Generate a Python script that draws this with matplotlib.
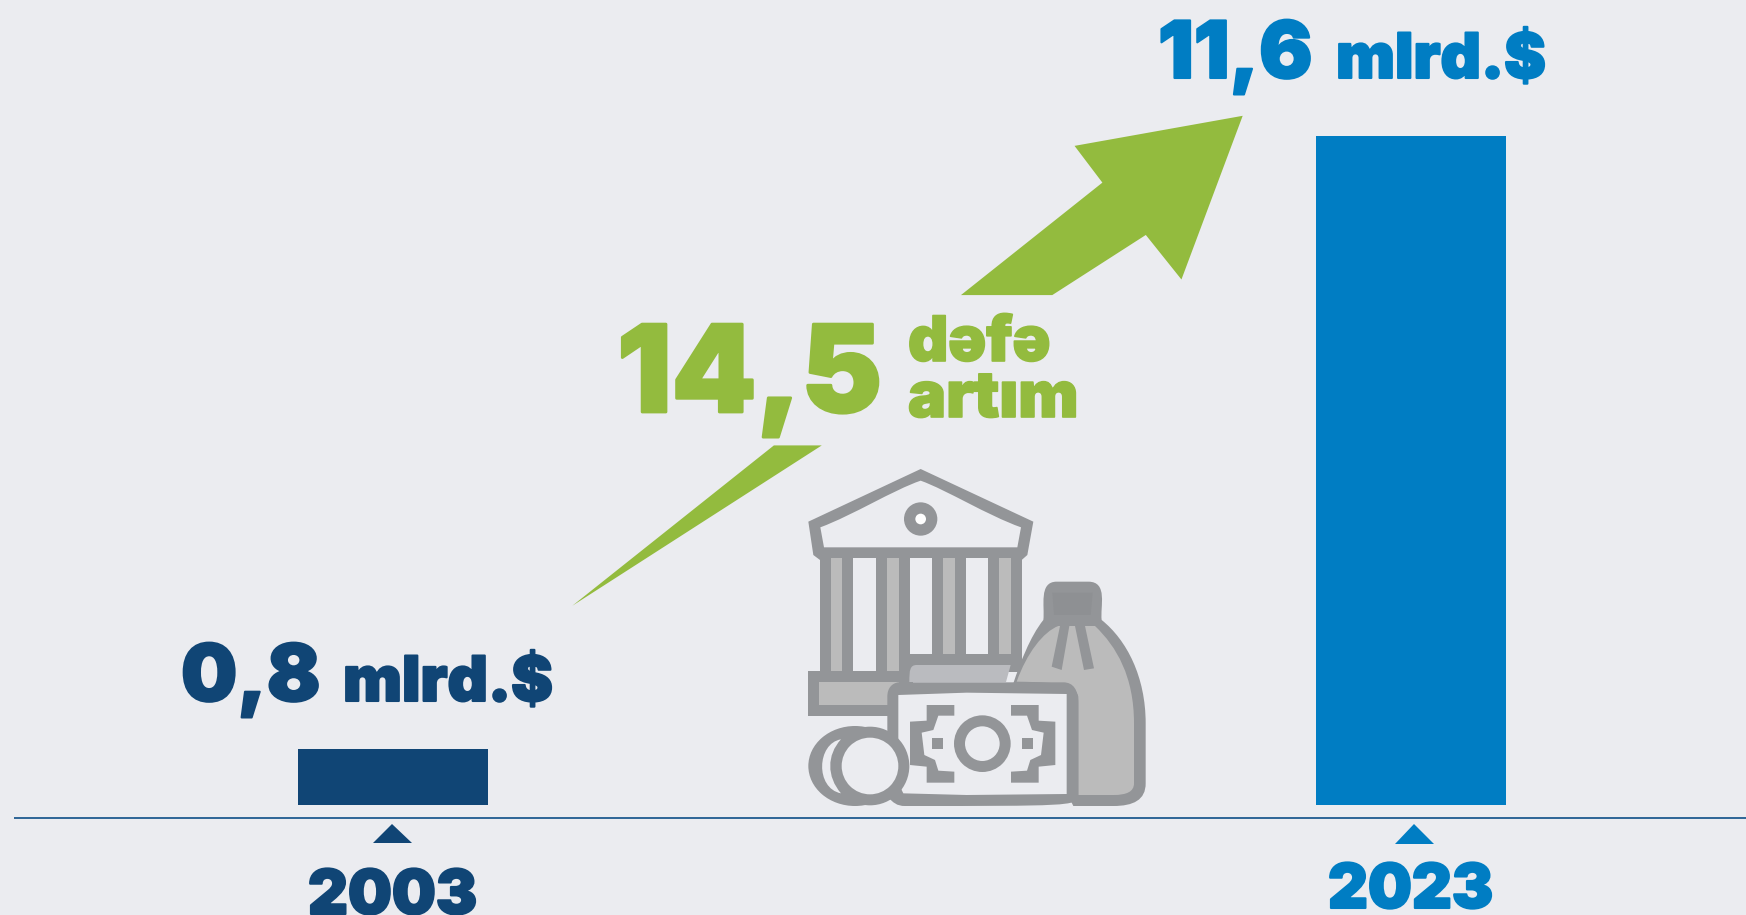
import matplotlib
matplotlib.use('Agg')
import matplotlib.pyplot as plt
import matplotlib.patheffects as pe
from matplotlib.patches import Polygon, Ellipse, PathPatch
from matplotlib.path import Path

# data
years = ['2003', '2023']
bar_heights = [0.97, 11.6]   # as drawn, the 2003 bar is a bit taller than its label says
value_labels = ['0,8', '11,6']
unit_label = 'mlrd.$'
growth_label = '14,5'
growth_words = ['dəfə', 'artım']

BG = '#EBECF0'
NAVY = '#104575'
BLUE = '#007DC3'
GREEN = '#93BB3E'
GREY = '#939598'
LIGHT = '#BBBBBB'
FONT = ['Inter', 'DejaVu Sans']

fig = plt.figure(figsize=(17.46, 9.15), dpi=100, facecolor=BG)

# bars
ax = fig.add_axes([0, 0, 1, 1], facecolor=BG)
ax.bar([0, 1], bar_heights, width=0.1867, color=[NAVY, BLUE], zorder=2)
ax.set_xlim(-0.386, 1.329)
ax.set_ylim(-1.907, 13.96)
ax.axis('off')

# overlay in pixels for everything that isnt a bar
ov = fig.add_axes([0, 0, 1, 1], facecolor='none')
ov.set_xlim(0, 1746)
ov.set_ylim(915, 0)
ov.axis('off')

ov.plot([14, 1746], [818, 818], color='#1F5A8F', lw=1.3, solid_capstyle='butt')
ov.add_patch(Polygon([(373, 843), (392, 824), (412, 843)], color=NAVY, lw=0))
ov.add_patch(Polygon([(1395, 844), (1414, 824), (1434, 844)], color=BLUE, lw=0))

# arrow, shrunk picture coords
S = 1746 / 1568
def sc(pts):
    return [(x * S, y * S) for x, y in pts]

ov.add_patch(Polygon(sc([(863, 265), (990, 164), (965, 131), (1116, 104),
                         (1061, 251), (1029, 211), (945, 265)]), color=GREEN, lw=0))
ov.add_patch(Polygon(sc([(514, 544), (695, 400), (738, 400)]), color=GREEN, lw=0))

# text
def label(x, y, s, size, color, extra=0.0):
    t = ov.text(x, y, s, fontsize=size, color=color, family=FONT, weight='black',
                ha='left', va='baseline')
    if extra:
        t.set_path_effects([pe.withStroke(linewidth=extra, foreground=color)])
    return t

label(181, 701, value_labels[0], 57, NAVY, 1.5)
label(343, 701, unit_label, 45, NAVY, 1.5)
label(1158, 78, value_labels[1], 57, BLUE, 1.5)
label(1336, 78, unit_label, 45, BLUE, 1.5)
label(617, 412, growth_label, 87, GREEN, 2)
label(908, 361, growth_words[0], 45, GREEN, 1.2)
label(908, 417, growth_words[1], 46, GREEN, 1.2)
label(308, 914, years[0], 44.5, NAVY, 1.5)
label(1328, 908, years[1], 44.5, BLUE, 1.5)

def z(pts):
    return [(780 + x / 3, 450 + y / 3) for x, y in pts]

def poly(pts, col, zo=3):
    ov.add_patch(Polygon(z(pts), closed=True, facecolor=col, edgecolor='none', zorder=zo))

def box(x0, y0, x1, y1, col, zo=3):
    poly([(x0, y0), (x1, y0), (x1, y1), (x0, y1)], col, zo)

def oval(cx, cy, rx, ry, col, zo=3):
    (px, py), = z([(cx, cy)])
    ov.add_patch(Ellipse((px, py), 2 * rx / 3, 2 * ry / 3, facecolor=col, edgecolor='none', zorder=zo))

def curve(verts, codes, col, zo=3):
    ov.add_patch(PathPatch(Path(z(verts), codes), facecolor=col, edgecolor='none', zorder=zo))

M, L, C = Path.MOVETO, Path.LINETO, Path.CURVE4

# roof
poly([(422, 57), (760, 215), (742, 315), (725, 330), (120, 330), (100, 315), (85, 215)], GREY)
curve([(422, 92), (500, 120), (620, 195), (723, 232), (712, 292), (132, 292), (121, 232),
       (220, 195), (340, 120), (422, 92)],
      [M, C, C, C, L, L, L, C, C, C], BG)
oval(422, 207, 50, 50, GREY)
oval(422, 207, 16, 16, 'white')

# columns
box(120, 325, 725, 665, GREY)
for x0, x1 in [(153, 187), (321, 356)]:
    box(x0, 325, x1, 662, LIGHT)
box(220, 325, 288, 662, BG)
for x0, x1 in [(489, 524), (657, 692)]:
    box(x0, 325, x1, 612, LIGHT)
for x0, x1 in [(389, 456), (557, 624)]:
    box(x0, 325, x1, 612, BG)

# plinth
box(85, 662, 400, 797, GREY)
box(118, 696, 356, 765, LIGHT)
curve([(388, 696), (388, 660), (390, 645), (410, 645), (692, 645), (678, 696)],
      [M, C, C, C, L, L], '#BABBBF')

# bag
curve([(790, 510), (795, 470), (775, 395), (830, 395), (925, 395), (985, 395), (960, 470),
       (965, 510), (1040, 570), (1097, 680), (1097, 820), (1097, 1000), (1097, 1050),
       (1060, 1068), (1000, 1068), (880, 1068), (700, 700), (720, 640), (750, 560), (790, 510)],
      [M, C, C, C, L, C, C, C, C, C, C, L, C, C, C, L, L, C, C, C], GREY, 4)
curve([(710, 695), (740, 610), (790, 545), (835, 528), (945, 528), (1010, 590), (1062, 680),
       (1062, 820), (1062, 1000), (1062, 1025), (1040, 1035), (1000, 1035), (895, 1035),
       (895, 740), (885, 705), (860, 697), (710, 695)],
      [M, C, C, C, L, C, C, C, L, C, C, C, L, L, C, C, C], LIGHT, 5)
poly([(840, 528), (815, 650), (845, 660), (868, 528)], GREY, 6)
poly([(885, 528), (912, 660), (942, 655), (915, 528)], GREY, 6)
poly([(817, 428), (938, 428), (932, 495), (822, 495)], '#8E9093', 6)

# banknote
curve([(355, 697), (850, 697), (880, 697), (895, 720), (895, 760), (895, 1040), (890, 1068),
       (860, 1068), (375, 1068), (350, 1068), (340, 1058), (322, 1040), (322, 740),
       (322, 715), (335, 700), (355, 697)],
      [M, L, C, C, C, L, C, C, C, C, C, C, L, C, C, C], GREY, 7)
poly([(355, 735), (560, 728), (860, 732), (860, 1032), (560, 1035), (370, 1030), (355, 1000)], BG, 8)
oval(607, 881, 85, 85, GREY, 9)
oval(607, 881, 52, 52, BG, 10)
box(456, 865, 490, 898, GREY, 9)
box(725, 865, 760, 898, GREY, 9)
bracket = [(440, 765), (523, 765), (523, 797), (475, 797), (460, 840), (425, 848), (433, 915),
           (465, 930), (475, 962), (523, 965), (523, 998), (440, 998), (440, 950), (390, 945),
           (390, 815), (440, 812)]
poly(bracket, GREY, 9)
poly([(1216 - x, y) for x, y in bracket], GREY, 9)

# coins
oval(225, 948, 140, 120, GREY, 11)
oval(270, 948, 118, 118, GREY, 12)
oval(270, 948, 85, 85, BG, 13)
curve([(183, 868), (110, 880), (105, 1015), (183, 1030), (140, 980), (140, 915), (183, 868)],
      [M, C, C, C, C, C, C], BG, 13)

fig.savefig('out.png', dpi=100, facecolor=BG)
